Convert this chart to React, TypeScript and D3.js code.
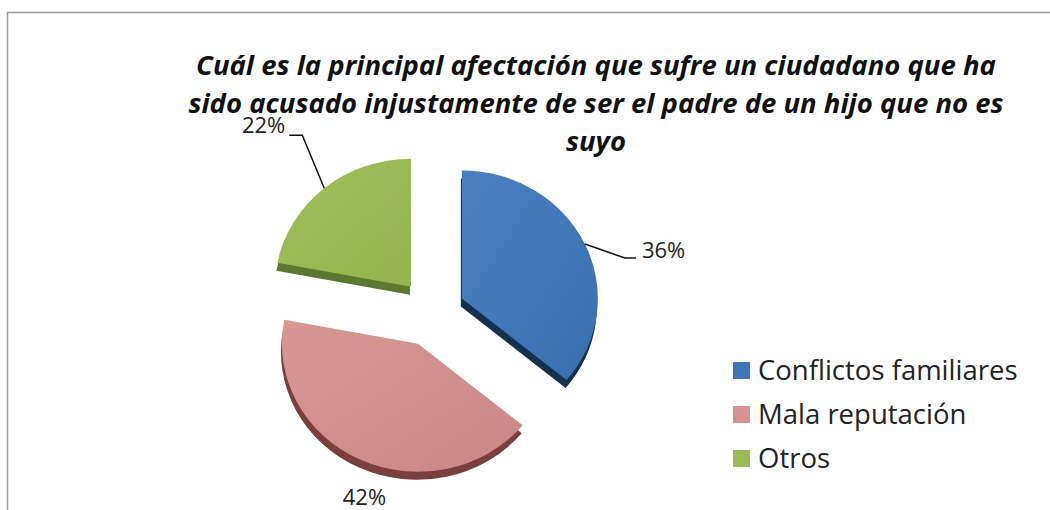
import React, { useEffect, useRef } from 'react';
import * as d3 from 'd3';

const categories = ['Conflictos familiares', 'Mala reputación', 'Otros'];
const values = [36, 42, 22];
const valueLabels = ['36%', '42%', '22%'];
const topColors = [['#4A80C1', '#3870AE'], ['#D89795', '#C98785'], ['#9FBF5C', '#93B34F']];
const sideColors = ['#14304F', '#7A3E3C', '#5C7830'];
const legendColors = ['#3F76B9', '#D69391', '#9BBB59'];
const titleLines = [
  'Cuál es la principal afectación que sufre un ciudadano que ha',
  'sido acusado injustamente de ser el padre de un hijo que no es',
  'suyo',
];

const App: React.FC = () => {
  const svgRef = useRef<SVGSVGElement>(null);

  useEffect(() => {
    if (!svgRef.current) return;
    const svg = d3.select(svgRef.current);
    svg.selectAll('*').remove();

    const font = '"Open Sans", Carlito, Calibri, sans-serif';

    // frame
    svg.append('rect')
      .attr('x', 7.5).attr('y', 12.5)
      .attr('width', 1100).attr('height', 600)
      .attr('fill', '#fff')
      .attr('stroke', '#9a9a9a')
      .attr('stroke-width', 1.5);

    // title
    svg.append('text')
      .attr('text-anchor', 'middle')
      .attr('font-family', font)
      .attr('font-weight', 'bold')
      .attr('font-style', 'italic')
      .attr('font-size', 27.5)
      .attr('fill', '#111')
      .selectAll('tspan')
      .data(titleLines)
      .enter()
      .append('tspan')
      .attr('x', 596)
      .attr('y', (_, i) => 75 + i * 38)
      .text(d => d);

    const defs = svg.append('defs');
    topColors.forEach((c, i) => {
      const g = defs.append('linearGradient')
        .attr('id', `grad${i}`)
        .attr('x1', '0%').attr('y1', '0%')
        .attr('x2', '100%').attr('y2', '100%');
      g.append('stop').attr('offset', '0%').attr('stop-color', c[0]);
      g.append('stop').attr('offset', '100%').attr('stop-color', c[1]);
    });

    const cx = 432, cy = 313;
    const rx = 136, ry = 128;
    const exX = 33, exY = 34;
    const depth = 8;

    const pie = d3.pie<number>().sort(null).startAngle(0).endAngle(2 * Math.PI);
    const arcs = pie(values);
    const arc = d3.arc<d3.PieArcDatum<number>>().innerRadius(0).outerRadius(rx);

    const center = (d: d3.PieArcDatum<number>) => {
      const mid = (d.startAngle + d.endAngle) / 2;
      return [cx + exX * Math.sin(mid), cy - exY * Math.cos(mid)];
    };
    const onArc = (d: d3.PieArcDatum<number>, a: number, k = 1) => {
      const [x, y] = center(d);
      return [x + rx * k * Math.sin(a), y - ry * k * Math.cos(a)];
    };

    // sides
    svg.append('g').selectAll('path')
      .data(arcs)
      .enter()
      .append('path')
      .attr('transform', d => {
        const [x, y] = center(d);
        return `translate(${x - 1},${y + depth}) scale(1,${ry / rx})`;
      })
      .attr('d', arc)
      .attr('fill', (_, i) => sideColors[i]);

    // tops
    svg.append('g').selectAll('path')
      .data(arcs)
      .enter()
      .append('path')
      .attr('transform', d => {
        const [x, y] = center(d);
        return `translate(${x},${y}) scale(1,${ry / rx})`;
      })
      .attr('d', arc)
      .attr('fill', (_, i) => `url(#grad${i})`);

    // labels
    const labelG = svg.append('g')
      .attr('font-family', font)
      .attr('font-size', 22)
      .attr('fill', '#222');

    // Conflictos familiares: leader to the right
    const a0 = arcs[0];
    const m0 = (a0.startAngle + a0.endAngle) / 2;
    const p0 = onArc(a0, m0);
    labelG.append('path')
      .attr('d', `M${p0[0]},${p0[1]}L${p0[0] + 40},${p0[1] + 14}L${p0[0] + 51},${p0[1] + 14}`)
      .attr('stroke', '#111').attr('stroke-width', 1.5).attr('fill', 'none');
    labelG.append('text')
      .attr('x', p0[0] + 57).attr('y', p0[1] + 14)
      .text(valueLabels[0]);

    // Mala reputación: below, no leader
    const a1 = arcs[1];
    const p1 = onArc(a1, (a1.startAngle + a1.endAngle) / 2, 1.2);
    labelG.append('text')
      .attr('text-anchor', 'middle')
      .attr('x', p1[0] + 16).attr('y', p1[1] + 22)
      .text(valueLabels[1]);

    // Otros: leader up-left
    const a2 = arcs[2];
    const m2 = (a2.startAngle + a2.endAngle) / 2;
    const p2 = onArc(a2, m2);
    labelG.append('path')
      .attr('d', `M${p2[0]},${p2[1]}L${p2[0] - 22},${p2[1] - 53}L${p2[0] - 35},${p2[1] - 53}`)
      .attr('stroke', '#111').attr('stroke-width', 1.5).attr('fill', 'none');
    labelG.append('text')
      .attr('text-anchor', 'end')
      .attr('x', p2[0] - 39).attr('y', p2[1] - 55)
      .text(valueLabels[2]);

    // legend
    const legend = svg.append('g')
      .attr('transform', 'translate(733,362)')
      .selectAll('g')
      .data(categories)
      .enter()
      .append('g')
      .attr('transform', (_, i) => `translate(0,${i * 44})`);
    legend.append('rect')
      .attr('width', 17).attr('height', 17)
      .attr('fill', (_, i) => legendColors[i]);
    legend.append('text')
      .attr('x', 25).attr('y', 18)
      .attr('font-family', font)
      .attr('font-size', 27.5)
      .attr('fill', '#222')
      .text(d => d);
  }, []);

  return (
    <svg
      ref={svgRef}
      width={1050}
      height={510}
      style={{ position: 'absolute', left: 0, top: 0, display: 'block' }}
    />
  );
};

export default App;
